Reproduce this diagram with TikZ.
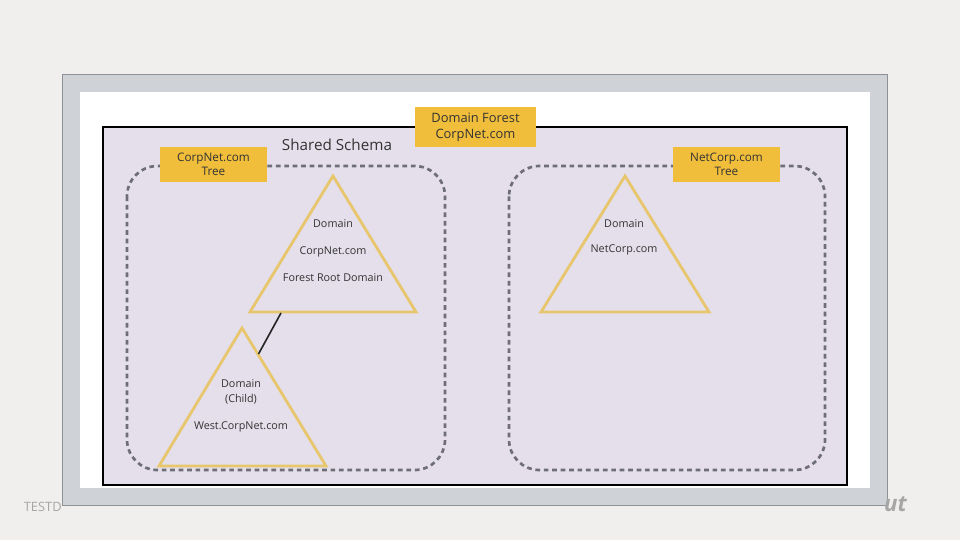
\documentclass[tikz,border=0pt]{standalone}
\usepackage{fontspec}
\setmainfont{Open Sans}
\definecolor{pagebg}{RGB}{240,239,237}
\definecolor{framegray}{RGB}{207,210,214}
\definecolor{frameedge}{RGB}{142,145,150}
\definecolor{lavender}{RGB}{228,223,235}
\definecolor{labelyellow}{RGB}{240,190,58}
\definecolor{triline}{RGB}{232,198,110}
\definecolor{dashgray}{RGB}{110,110,120}
\definecolor{inktext}{RGB}{51,51,51}
\begin{document}
\begin{tikzpicture}[x=0.03cm, y=-0.03cm,
    tag/.style={fill=labelyellow, text=inktext, align=center, font=\fontsize{10}{12}\selectfont, inner sep=0pt},
    tritext/.style={text=inktext, font=\fontsize{9.2}{11}\selectfont},
    tree/.style={draw=dashgray, line width=2.3pt, dash pattern=on 4pt off 3.2pt, rounded corners=26},
    tri/.style={draw=triline, line width=2.4pt, line join=miter}]
    \useasboundingbox (0, 0) rectangle (960, 540);
    \fill[pagebg] (0, 0) rectangle (960, 540);
    % slide frame
    \filldraw[fill=framegray, draw=frameedge, line width=0.8pt] (62, 74) rectangle (887, 505);
    \fill[white] (80, 92) rectangle (870, 488);
    \node[text=gray!70, font=\fontsize{11}{12}\selectfont, anchor=east, inner sep=0pt] (wmleft) at (62, 507) {TESTD};
    \node[text=gray!70, font=\bfseries\itshape\fontsize{19}{20}\selectfont, anchor=west, inner sep=0pt] (wmright) at (884, 504) {ut};
    % forest
    \filldraw[fill=lavender, draw=black, line width=1.7pt] (103, 127) rectangle (847, 485);
    \node[tag, font=\fontsize{11}{13.5}\selectfont, minimum width=121*0.03cm, minimum height=40*0.03cm] (forest) at (475.5, 127) {Domain Forest\\CorpNet.com};
    \node[text=inktext, font=\fontsize{13}{15}\selectfont] (schema) at (337, 145) {Shared Schema};
    % trees
    \draw[tree] (127, 166) rectangle (445, 470);
    \draw[tree] (509, 166) rectangle (825, 470);
    \node[tag, minimum width=107*0.03cm, minimum height=35*0.03cm] (lefttree) at (213.5, 164.5) {CorpNet.com\\Tree};
    \node[tag, minimum width=107*0.03cm, minimum height=35*0.03cm] (righttree) at (726.5, 164.5) {NetCorp.com\\Tree};
    % domains
    \draw[tri] (333, 176) coordinate (roottop) -- (416, 312) -- (250, 312) -- cycle;
    \draw[tri] (242, 328) coordinate (childtop) -- (326, 466) -- (159, 466) -- cycle;
    \draw[tri] (625, 176) coordinate (nettop) -- (709, 312) -- (541, 312) -- cycle;
    \node[tritext] (rootname) at (333, 224) {Domain};
    \node[tritext] (rootdns) at (333, 252) {CorpNet.com};
    \node[tritext] (rootrole) at (333, 278) {Forest Root Domain};
    \node[tritext, align=center] (childname) at (241, 392) {Domain\\[2pt](Child)};
    \node[tritext] (childdns) at (241, 427) {West.CorpNet.com};
    \node[tritext] (netname) at (624, 224) {Domain};
    \node[tritext] (netdns) at (624, 250) {NetCorp.com};
    \coordinate (rootbase) at (281, 313);
    \coordinate (childedge) at (258.5, 354);
    \draw[line width=1.4pt, black!85] (rootbase) -- (childedge);
\end{tikzpicture}
\end{document}
